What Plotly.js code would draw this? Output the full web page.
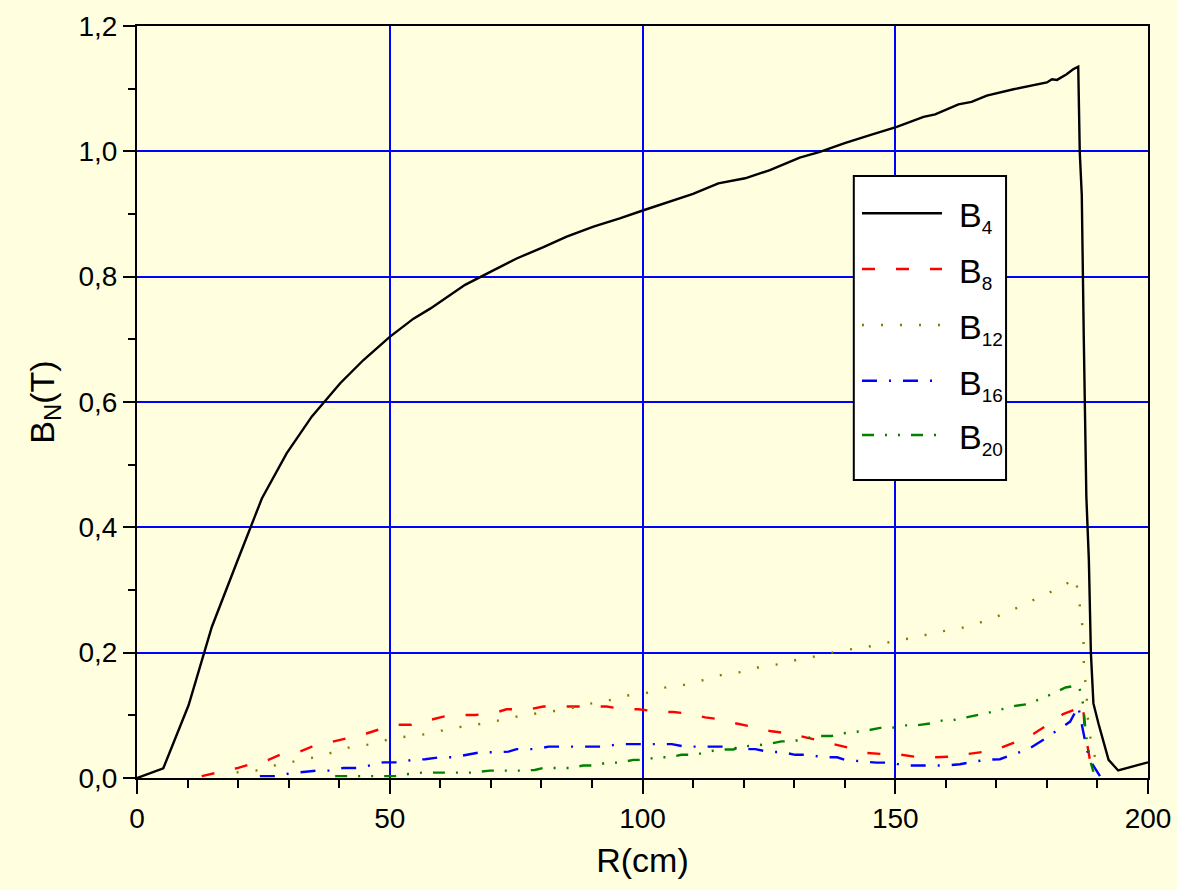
<!DOCTYPE html>
<html>
<head>
<meta charset="utf-8">
<script src="https://cdn.plot.ly/plotly-3.0.1.min.js"></script>
<style>html,body{margin:0;padding:0;background:#FFFFE0;}</style>
</head>
<body>
<div id="chart" style="width:1177px;height:890px;"></div>
<script>
// Series names (legend)
const names = ['B<sub>4</sub>', 'B<sub>8</sub>', 'B<sub>12</sub>', 'B<sub>16</sub>', 'B<sub>20</sub>'];
const subs = ['4', '8', '12', '16', '20'];

// B4
const R4 = [0, 5.2, 10.2, 14.8, 19.7, 24.7, 29.6, 34.6, 40.2, 44.8, 50, 54.7, 58, 64.9, 70, 75.1, 80.4, 85, 90.3, 95.5, 100.2, 104.8, 110, 115, 120.3, 125.2, 131.1, 135.1, 140, 145, 150.3, 155.6, 157.9, 162.5, 165.1, 168.1, 173.4, 180, 181, 182, 183.9, 185.2, 186.2, 186.5, 186.9, 187.3, 187.8, 188.3, 188.7, 189.2, 190.2, 192.2, 194.1, 200];
const B4 = [0, 0.0155, 0.116, 0.241, 0.343, 0.446, 0.518, 0.577, 0.630, 0.667, 0.704, 0.733, 0.749, 0.787, 0.808, 0.829, 0.847, 0.864, 0.880, 0.893, 0.906, 0.918, 0.932, 0.949, 0.957, 0.970, 0.990, 0.999, 1.013, 1.026, 1.039, 1.055, 1.059, 1.075, 1.079, 1.089, 1.099, 1.110, 1.115, 1.114, 1.123, 1.131, 1.135, 0.999, 0.93, 0.7, 0.45, 0.348, 0.2, 0.119, 0.087, 0.029, 0.012, 0.025];

// B8
const R8 = [12.8, 15.8, 19.7, 22, 26, 28.3, 32.2, 34.6, 38.8, 40.2, 45.4, 47.7, 51.7, 54.3, 58.3, 60.6, 64.6, 66.9, 70.8, 73.1, 77.7, 80.4, 84, 90.3, 92.9, 96.5, 99.2, 103.5, 106.1, 109.7, 112.4, 116.3, 118.6, 122.6, 125.2, 128.8, 129.8, 131.2, 135.8, 138.1, 142, 144.3, 148.3, 150.6, 154.6, 157.2, 160.8, 162.5, 164.1, 167.7, 170.4, 174, 176.7, 180.6, 183.2, 185.8, 186.2, 187.2, 187.5, 188.5, 188.9, 190.8];
const B8 = [0.003, 0.0085, 0.0155, 0.021, 0.029, 0.037, 0.042, 0.050, 0.058, 0.061, 0.071, 0.077, 0.085, 0.085, 0.093, 0.098, 0.1005, 0.1005, 0.104, 0.1096, 0.1096, 0.114, 0.114, 0.114, 0.114, 0.1096, 0.1096, 0.1053, 0.1053, 0.102, 0.0968, 0.0925, 0.087, 0.080, 0.075, 0.071, 0.067, 0.067, 0.058, 0.054, 0.0458, 0.040, 0.0378, 0.0378, 0.033, 0.033, 0.034, 0.038, 0.038, 0.042, 0.0468, 0.058, 0.067, 0.087, 0.102, 0.11, 0.12, 0.111, 0.0766, 0.029, 0.026, 0.0085];

// B12
const R12 = [19.7, 23.5, 27.1, 30.8, 35.1, 38.8, 42.5, 46.5, 50.4, 54.1, 58.2, 61.9, 65.7, 69.4, 73.3, 77.1, 80.9, 85, 89, 92.6, 96.3, 100.5, 104.1, 107.9, 111.9, 115.8, 119.5, 123.6, 127.4, 131.2, 134.9, 139.1, 142.7, 146.4, 150.5, 154.2, 158, 162, 166, 169.6, 173.4, 177.5, 181.3, 185, 185.6, 186.2, 186.7, 187.2, 187.3, 187.3, 187.9, 187.9, 188.4, 188.9, 190.5];
const B12 = [0.009, 0.0117, 0.0197, 0.026, 0.033, 0.041, 0.050, 0.054, 0.063, 0.067, 0.071, 0.079, 0.084, 0.088, 0.095, 0.101, 0.105, 0.1096, 0.118, 0.122, 0.131, 0.135, 0.144, 0.148, 0.156, 0.165, 0.169, 0.178, 0.182, 0.190, 0.195, 0.203, 0.207, 0.212, 0.220, 0.224, 0.233, 0.237, 0.246, 0.256, 0.269, 0.284, 0.299, 0.315, 0.32, 0.295, 0.264, 0.231, 0.2, 0.171, 0.139, 0.107, 0.078, 0.046, 0.014];

// B16
const R16 = [24.3, 27.3, 30.3, 32.9, 35.5, 38.2, 40.8, 43.8, 46.1, 48.7, 52, 54.5, 57, 59.9, 62.6, 65.2, 67.9, 70.5, 73.5, 75.1, 78.7, 81.4, 92.6, 95.1, 105.8, 108.4, 117, 119.6, 122.3, 125.2, 127.5, 130.2, 132.8, 135.8, 138.5, 140, 143.7, 146.3, 149.3, 151.6, 160.2, 162.8, 165.4, 168.1, 170.7, 173.4, 176.3, 179.3, 181.9, 184.6, 186.2, 186.9, 187.5, 187.9, 188.9, 190.5];
const B16 = [0.003, 0.003, 0.0075, 0.009, 0.0117, 0.0117, 0.016, 0.016, 0.02, 0.025, 0.025, 0.029, 0.030, 0.033, 0.033, 0.037, 0.041, 0.041, 0.042, 0.046, 0.046, 0.050, 0.050, 0.054, 0.054, 0.050, 0.050, 0.046, 0.046, 0.0415, 0.0415, 0.037, 0.037, 0.033, 0.033, 0.029, 0.027, 0.0245, 0.0245, 0.020, 0.020, 0.022, 0.026, 0.029, 0.030, 0.038, 0.046, 0.061, 0.0755, 0.090, 0.114, 0.087, 0.061, 0.045, 0.0235, 0.003];

// B20
const R20 = [39.2, 51, 53.7, 56.3, 66.2, 69.8, 75.8, 78.7, 80.4, 85.7, 88.3, 90.6, 92.9, 95.5, 98.2, 100.5, 102.7, 105.3, 107.7, 110.4, 112.7, 115.3, 118, 119.6, 122.3, 124.9, 127.5, 129.8, 132.1, 134.8, 137.4, 139.4, 142, 144.3, 147, 149.3, 151.6, 154.2, 156.9, 159.2, 161.5, 164.1, 166.8, 168.4, 171, 173.7, 176.3, 178.6, 181.3, 183.7, 186.2, 186.9, 187.2, 187.7, 188, 188.5, 189.2];
const B20 = [0.003, 0.003, 0.0064, 0.0085, 0.0085, 0.0117, 0.0117, 0.0128, 0.016, 0.016, 0.020, 0.020, 0.0245, 0.0245, 0.029, 0.029, 0.033, 0.033, 0.037, 0.037, 0.0415, 0.0455, 0.0455, 0.050, 0.052, 0.054, 0.0585, 0.0585, 0.063, 0.067, 0.067, 0.071, 0.0734, 0.0755, 0.080, 0.080, 0.084, 0.084, 0.087, 0.0915, 0.0925, 0.097, 0.1005, 0.104, 0.1095, 0.115, 0.118, 0.1255, 0.135, 0.1445, 0.148, 0.132, 0.114, 0.071, 0.053, 0.029, 0.010];

const xs = [R4, R8, R12, R16, R20];
const ys = [B4, B8, B12, B16, B20];
const colors = ['#000000', '#FF0000', '#808000', '#0000FF', '#008000'];
const dashes = ['solid', '13px,21px', '2px,17px', '15px,12px,2px,12px', '12px,11px,2px,11px,2px,11px'];

const FONT = 'Liberation Sans, Arial, sans-serif';

const traces = xs.map((x, i) => ({
  x: x, y: ys[i], name: names[i], type: 'scatter', mode: 'lines',
  line: {color: colors[i], width: 2.4, dash: dashes[i]},
  showlegend: false, hoverinfo: 'skip'
}));

// Custom legend (box, line samples, labels) in paper coordinates
const legX0 = 0.709, legX1 = 0.8596, legY0 = 0.3963, legY1 = 0.8005;
const sampX0 = 0.7171, sampX1 = 0.7962, textX = 0.8115;
const rowY = [0.7509, 0.6769, 0.6024, 0.5283, 0.4561];

const shapes = [{
  type: 'rect', xref: 'paper', yref: 'paper', x0: legX0, x1: legX1, y0: legY0, y1: legY1,
  fillcolor: '#FFFFFF', line: {color: '#000000', width: 2}, layer: 'above'
}];
const annotations = [];
names.forEach((n, i) => {
  shapes.push({type: 'line', xref: 'paper', yref: 'paper', x0: sampX0, x1: sampX1, y0: rowY[i], y1: rowY[i],
    line: {color: colors[i], width: 2.4, dash: dashes[i]}, layer: 'above'});
  annotations.push({xref: 'paper', yref: 'paper', x: textX, y: rowY[i], xanchor: 'left', yanchor: 'middle', yshift: -4,
    text: 'B<sub><span style="font-size:19px">' + subs[i] + '</span></sub>', showarrow: false,
    font: {family: FONT, size: 34, color: '#000000'}});
});

const axisCommon = {
  showline: true, linecolor: '#000000', linewidth: 2, mirror: true,
  showgrid: true, gridcolor: '#0000FF', gridwidth: 2, zeroline: false,
  ticks: 'outside', tickcolor: '#000000', tickwidth: 2,
  tickfont: {family: FONT, size: 28, color: '#000000'},
  automargin: false, fixedrange: true
};

const layout = {
  width: 1177, height: 890,
  margin: {l: 137, r: 29, t: 26, b: 112},
  paper_bgcolor: '#FFFFE0', plot_bgcolor: '#FFFFE0',
  separators: ',.',
  showlegend: false,
  xaxis: Object.assign({}, axisCommon, {
    range: [0, 200], tick0: 0, dtick: 50, ticklen: 14,
    minor: {dtick: 10, ticks: 'outside', ticklen: 8, tickwidth: 2, tickcolor: '#000000', showgrid: false},
    title: {text: 'R(cm)', font: {family: FONT, size: 34, color: '#000000'}, standoff: 16}
  }),
  yaxis: Object.assign({}, axisCommon, {
    range: [0, 1.2], tick0: 0, dtick: 0.2, tickformat: '.1f', ticklen: 12,
    minor: {dtick: 0.1, ticks: 'outside', ticklen: 7, tickwidth: 2, tickcolor: '#000000', showgrid: false},
    title: {text: 'B<sub>N</sub>(T)', font: {family: FONT, size: 34, color: '#000000'}, standoff: 14}
  }),
  shapes: shapes,
  annotations: annotations
};

Plotly.newPlot('chart', traces, layout, {displayModeBar: false, staticPlot: true});
</script>
</body>
</html>
